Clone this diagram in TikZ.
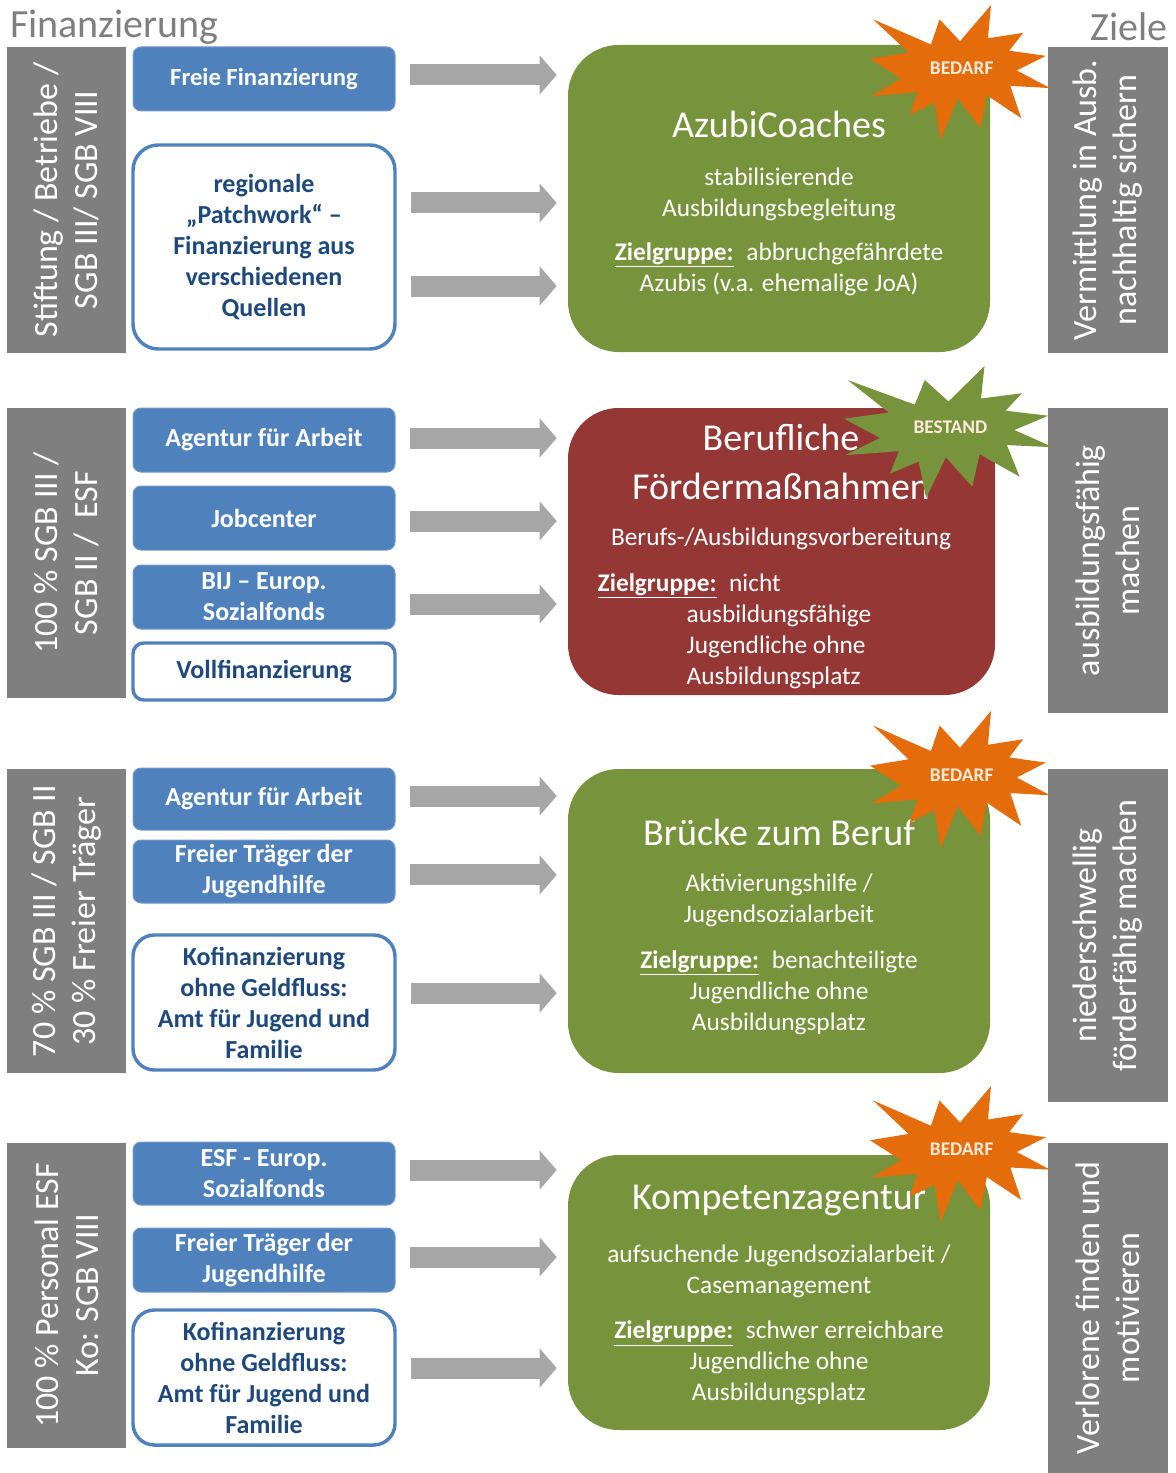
\documentclass[tikz,border=0pt]{standalone}
\usepackage{fontspec}
\setmainfont{Carlito}
\usetikzlibrary{arrows.meta}

\definecolor{bargray}{HTML}{7F7F7F}
\definecolor{arrowgray}{HTML}{A6A6A6}
\definecolor{fundblue}{HTML}{4F81BD}
\definecolor{fundnavy}{HTML}{1F497D}
\definecolor{progolive}{HTML}{77933C}
\definecolor{progred}{HTML}{953735}
\definecolor{burstorange}{HTML}{E46C0A}
\definecolor{burstcream}{HTML}{FDEADA}

\newcommand{\zg}{\underline{\textbf{Zielgruppe:}}\enspace}
% explosion shape fitted into the box at (#2,#3), width #4, height #5
\newcommand{\burst}[7]{%
  \begin{scope}[shift={(#2,#3)},xscale=#4/216,yscale=#5/216]
    \fill[#6] (108,58) -- (145.22,0) -- (141.55,53.25) -- (183.8,44.57) -- (167.02,73.15)
      -- (210.97,81.37) -- (176.07,104.75) -- (216,132.9) -- (168.37,129.42) -- (181.45,180.95)
      -- (140.2,144.57) -- (132.47,197.37) -- (105.32,149.35) -- (84.85,216) -- (77.15,156.27)
      -- (47.62,176.17) -- (56.67,139.37) -- (1.35,145.87) -- (37.22,117.75) -- (0,86.15)
      -- (46.27,76.17) -- (3.7,22.95) -- (73.12,63.2) -- (83.52,22.95) -- cycle;
    \node[bursttext] (#1) at (110,101) {#7};
  \end{scope}}

\begin{document}
\begin{tikzpicture}[x=0.75pt,y=-0.75pt,
  head/.style={text=bargray,inner sep=0pt,font=\fontsize{30}{35}\selectfont},
  bar/.style={fill=bargray,text=white,align=center,inner sep=0pt,rotate=90,
    font=\fontsize{25.5}{30}\selectfont},
  fund/.style={fill=fundblue,draw=fundblue!80!white,line width=0.75pt,rounded corners=6pt,
    text=white,align=center,minimum width=196.5pt,minimum height=48pt,inner sep=0pt,
    font=\bfseries\fontsize{19.5}{23.25}\selectfont},
  cofund/.style={fund,fill=white,draw=fundblue,line width=2.6pt,text=fundnavy},
  prog/.style={rounded corners=38pt,minimum width=316.5pt,inner sep=0pt},
  progtitle/.style={text=white,align=center,inner sep=0pt,font=\fontsize{28.5}{36.75}\selectfont},
  progtext/.style={text=white,align=center,inner sep=0pt,font=\fontsize{19}{23.25}\selectfont},
  bursttext/.style={text=burstcream,inner sep=0pt,font=\bfseries\fontsize{14.5}{16}\selectfont},
  flow/.style={draw=arrowgray,line width=15.75pt,-{Triangle[length=12.75pt,width=28.5pt]},
    shorten <=10.9pt,shorten >=8.25pt}]

\useasboundingbox (0,0) rectangle (1175,1473);
\node[head,anchor=west] (fin) at (10,27) {Finanzierung};
\node[head,anchor=east] (ziele) at (1168,27) {Ziele};

% legal basis
\node[bar,minimum width=229.5pt,minimum height=89.25pt] (basis1) at (66.5,200) {Stiftung / Betriebe /\\SGB III/ SGB VIII};
\node[bar,minimum width=217.5pt,minimum height=89.25pt] (basis2) at (66.5,553) {100 \% SGB III /\\SGB II /\ \ ESF};
\node[bar,minimum width=228pt,minimum height=89.25pt] (basis3) at (66.5,921) {70 \% SGB III / SGB II\\30 \% Freier Träger};
\node[bar,minimum width=228.75pt,minimum height=89.25pt] (basis4) at (66.5,1295.5) {100 \% Personal ESF\\Ko: SGB VIII};

% funding sources
\node[fund,font=\bfseries\fontsize{18.5}{23.25}\selectfont] (ff) at (264,79) {Freie Finanzierung};
\node[cofund,minimum height=153pt,rounded corners=19pt] (pw) at (264,247) {regionale\\„Patchwork“ –\\Finanzierung aus\\verschiedenen\\Quellen};

\node[fund] (aa2) at (264,440) {Agentur für Arbeit};
\node[fund] (jc) at (264,518) {Jobcenter};
\node[fund] (bij) at (264,597) {BIJ – Europ.\\Sozialfonds};
\node[cofund,minimum height=42.75pt,rounded corners=8pt] (vf) at (264,671.5) {Vollfinanzierung};

\node[fund,minimum height=46.5pt] (aa3) at (264,799) {Agentur für Arbeit};
\node[fund,minimum height=47.25pt] (ft3) at (264,871.5) {Freier Träger der\\Jugendhilfe};
\node[cofund,minimum height=101.25pt,rounded corners=16pt] (kf3) at (264,1002.5) {Kofinanzierung\\ohne Geldfluss:\\Amt für Jugend und\\Familie};

\node[fund,minimum height=47.25pt] (esf) at (264,1173.5) {ESF - Europ.\\Sozialfonds};
\node[fund] (ft4) at (264,1260) {Freier Träger der\\Jugendhilfe};
\node[cofund,minimum height=101.25pt,rounded corners=16pt] (kf4) at (264,1377.5) {Kofinanzierung\\ohne Geldfluss:\\Amt für Jugend und\\Familie};

% programmes
\node[prog,fill=progolive,minimum height=230.25pt] (azubi) at (779,198.5) {};
\node[progtitle] (azubiT) at (779,124) {AzubiCoaches};
\node[progtext] (azubiD) at (779,231.5) {stabilisierende\\Ausbildungsbegleitung\\[9.75pt]\zg abbruchgefährdete\\Azubis (v.a. ehemalige JoA)};

\node[prog,fill=progred,minimum width=320.25pt,minimum height=215.25pt] (bfm) at (781.5,551.5) {};
\node[progtitle] (bfmT) at (781,461.5) {Berufliche\\Fördermaßnahmen};
\node[progtext] (bfmD) at (781,608) {Berufs-/Ausbildungsvorbereitung\\[11.25pt]
  \makebox[275pt][l]{\zg nicht}\\
  \makebox[275pt][l]{\hspace{66.75pt}ausbildungsfähige}\\
  \makebox[275pt][l]{\hspace{66.75pt}Jugendliche ohne}\\
  \makebox[275pt][l]{\hspace{66.75pt}Ausbildungsplatz}};

\node[prog,fill=progolive,minimum height=228pt] (bzb) at (779,921) {};
\node[progtitle] (bzbT) at (779,832) {Brücke zum Beruf};
\node[progtext] (bzbD) at (779,954) {Aktivierungshilfe /\\Jugendsozialarbeit\\[11.25pt]\zg benachteiligte\\Jugendliche ohne\\Ausbildungsplatz};

\node[prog,fill=progolive,minimum height=206.25pt] (kompa) at (779,1292.5) {};
\node[progtitle] (kompaT) at (779,1201) {Kompetenzagentur};
\node[progtext] (kompaD) at (779,1325) {aufsuchende Jugendsozialarbeit /\\Casemanagement\\[10.5pt]\zg schwer erreichbare\\Jugendliche ohne\\Ausbildungsplatz};

% goals
\node[bar,minimum width=229.5pt,minimum height=90pt] (goal1) at (1108,200) {Vermittlung in Ausb.\\nachhaltig sichern};
\node[bar,minimum width=228.75pt,minimum height=90pt] (goal2) at (1108,560.5) {ausbildungsfähig\\machen};
\node[bar,minimum width=249.75pt,minimum height=90pt] (goal3) at (1108,935.5) {niederschwellig\\förderfähig machen};
\node[bar,minimum width=247.5pt,minimum height=90pt] (goal4) at (1108,1308) {Verlorene finden und\\motivieren};

% money flows
\foreach \src/\dy/\dst [count=\i] in {ff/3/azubi, pw/33/azubi, pw/-29.25/azubi,
    aa2/1.5/bfm, jc/-2.25/bfm, bij/-5.25/bfm,
    aa3/2.25/bzb, ft3/-2.6/bzb, kf3/7.1/bzb,
    esf/2.6/kompa, ft4/2.25/kompa, kf4/7.1/kompa}{
  \coordinate (src\i) at ([yshift=\dy pt]\src.east);
  \draw[flow] (src\i) -- (src\i -| \dst.west);
}

\burst{need1}{870}{5}{180}{135}{burstorange}{BEDARF}
\burst{stock2}{844}{366}{209}{132}{progolive}{BESTAND}
\burst{need3}{870}{711}{180}{137}{burstorange}{BEDARF}
\burst{need4}{870}{1086}{180}{136}{burstorange}{BEDARF}
\end{tikzpicture}
\end{document}
